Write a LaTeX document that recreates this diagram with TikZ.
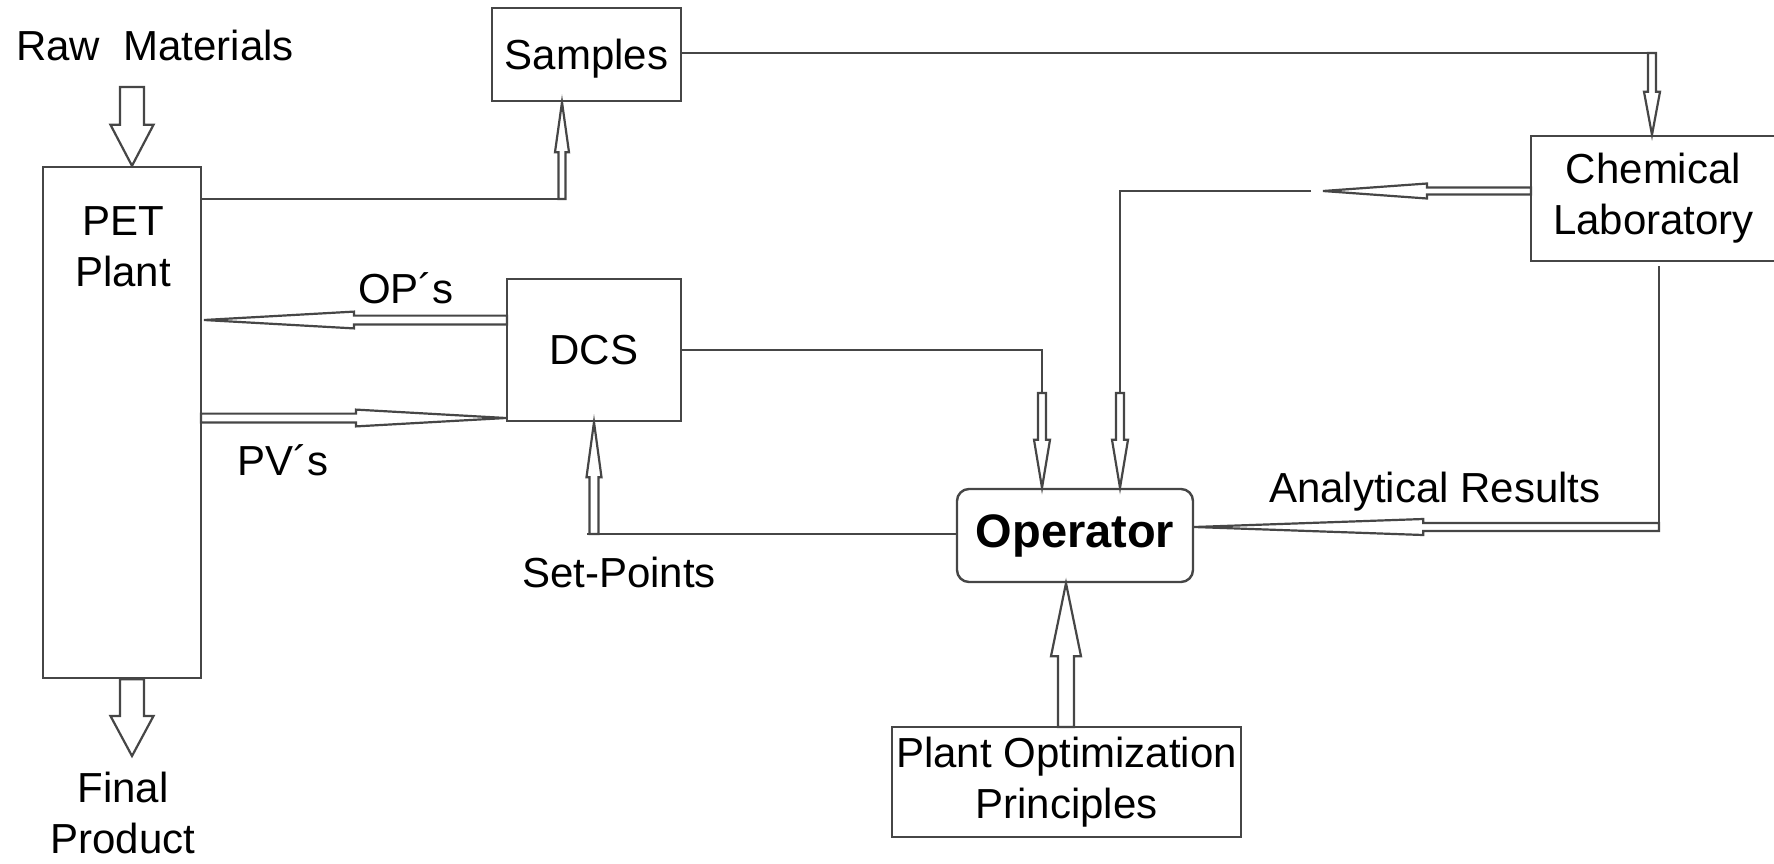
\documentclass[tikz,border=0pt]{standalone}
\usepackage{fontspec}
\setmainfont{Liberation Sans}
\usetikzlibrary{calc}
\definecolor{edge}{RGB}{70,70,70}
\tikzset{
  box/.style={draw=edge, line width=1.2pt, inner sep=0pt, align=center,
    font=\fontsize{21}{25.5}\selectfont},
  txt/.style={inner sep=0pt, align=center, font=\fontsize{21}{25.5}\selectfont},
  conn/.style={draw=edge, line width=1.1pt},
  fat/.style={draw=edge, line width=1.1pt, fill=white, line join=miter}
}
% hollow arrow: from, to, shaft half width, head half width, head length
\newcommand{\fatarrow}[5]{%
  \coordinate (fa-h) at ($(#2)!#5!(#1)$);
  \draw[fat] ($(#1)!#3!90:(#2)$) -- ($(fa-h)!#3!-90:(#1)$) -- ($(fa-h)!#4!-90:(#1)$)
    -- (#2) -- ($(fa-h)!#4!90:(#1)$) -- ($(fa-h)!#3!90:(#1)$) -- ($(#1)!#3!-90:(#2)$) -- cycle;
}
\begin{document}
\begin{tikzpicture}[x=0.5pt, y=-0.5pt]
      \useasboundingbox (0,0) rectangle (1774,863);
      % blocks
      \node[box, minimum width=79pt, minimum height=255.5pt] (pet) at (122,422.5) {};
      \node[txt] (pettxt) at (123,247) {PET\\Plant};
      \node[txt] (raw) at (155,45) {Raw~~Materials};
      \node[txt] (final) at (123,813) {Final\\Product};
      \node[box, text depth=0pt, minimum width=94.5pt, minimum height=46.5pt] (samples) at (586.5,54.5) {Samples};
      \node[box, minimum width=87pt, minimum height=71pt] (dcs) at (594,350) {DCS};
      \node[box, minimum width=122.5pt, minimum height=62.5pt] (chem) at (1653.5,198.5) {Chemical\\Laboratory};
      \node[box, rounded corners=6pt, minimum width=118pt, minimum height=46.5pt,
        font=\fontsize{23.5}{28}\selectfont\bfseries] (operator) at (1075,535.5) {Operator};
      \node[box, minimum width=174.5pt, minimum height=55pt] (plantopt) at (1066.5,782) {Plant Optimization\\Principles};
      % labels
      \node[txt] (ops) at (406,288) {OP´s};
      \node[txt] (pvs) at (283,460) {PV´s};
      \node[txt] (setpts) at (619,572) {Set-Points};
      \node[txt] (results) at (1435,492) {Analytical Results};
      % connector points
      \coordinate (rawtop) at (132,87);
      \coordinate (rawtip) at (rawtop |- pet.north);
      \coordinate (fintop) at (rawtop |- pet.south);
      \coordinate (fintip) at (132,756);
      \coordinate (smpfoot) at (562,199);
      \coordinate (smptip) at (smpfoot |- samples.south);
      \coordinate (labin) at (1652,53);
      \coordinate (labtip) at (labin |- chem.north);
      \coordinate (labout) at (1531,191);
      \coordinate (labmid) at (1323,191);
      \coordinate (gapend) at (1311,191);
      \coordinate (oplab) at (1120,393);
      \coordinate (oplabtip) at (oplab |- operator.north);
      \coordinate (opdcs) at (1042,393);
      \coordinate (opdcstip) at (opdcs |- operator.north);
      \coordinate (opsrc) at (507,320);
      \coordinate (optip) at (204,320);
      \coordinate (pvsrc) at (201,418);
      \coordinate (pvtip) at (506,418);
      \coordinate (spfoot) at (594,534);
      \coordinate (spend) at (587,534);
      \coordinate (sptip) at (spfoot |- dcs.south);
      \coordinate (arsrc) at (1659,266);
      \coordinate (arcorner) at (1659,527);
      \coordinate (artip) at (operator.east |- arcorner);
      \coordinate (potop) at (1066,727);
      \coordinate (potip) at (potop |- operator.south);
      \begin{scope}
        \draw[conn] (pet.east |- smpfoot) -- (smpfoot);
        \draw[conn] (samples.east |- labin) -- (labin);
        \draw[conn] (gapend) -| (oplab);
        \draw[conn] (dcs.east) -| (opdcs);
        \draw[conn] (operator.west |- spfoot) -- (spend);
        \draw[conn] (arsrc) -- (arcorner);
        \fatarrow{rawtop}{rawtip}{6pt}{10.75pt}{20.5pt}
        \fatarrow{fintop}{fintip}{6pt}{10.75pt}{20pt}
        \fatarrow{smpfoot}{smptip}{1.75pt}{3.5pt}{25pt}
        \fatarrow{labin}{labtip}{2pt}{4pt}{21.5pt}
        \fatarrow{labout}{labmid}{1.75pt}{3.75pt}{52pt}
        \fatarrow{oplab}{oplabtip}{2pt}{4pt}{24pt}
        \fatarrow{opdcs}{opdcstip}{2pt}{4pt}{24pt}
        \fatarrow{opsrc}{optip}{2.2pt}{4.2pt}{75pt}
        \fatarrow{pvsrc}{pvtip}{2.2pt}{4.2pt}{75pt}
        \fatarrow{spfoot}{sptip}{2.25pt}{3.75pt}{27.5pt}
        \fatarrow{arcorner}{artip}{2pt}{4pt}{114.5pt}
        \fatarrow{potop}{potip}{4pt}{7.5pt}{36.5pt}
      \end{scope}
    \end{tikzpicture}
\end{document}
